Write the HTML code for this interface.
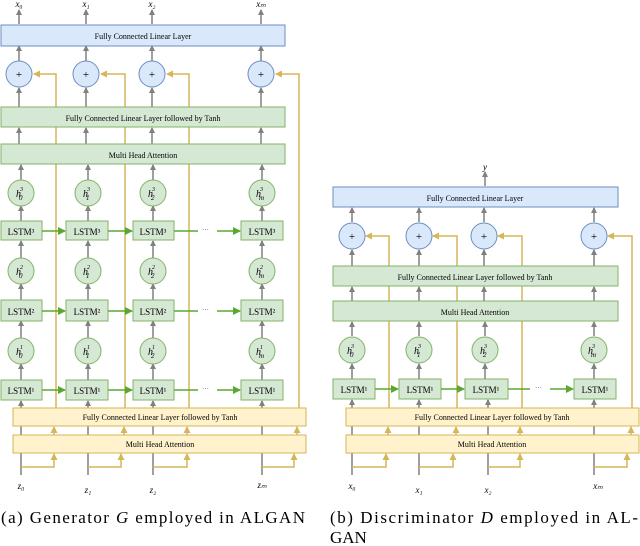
<!DOCTYPE html>
<html><head><style>body{margin:0;background:#fff}svg{display:block}
text{font-family:"Liberation Serif",serif}</style></head><body>
<svg width="640" height="546" viewBox="0 0 640 546" xmlns="http://www.w3.org/2000/svg">
<defs>
<marker id="g" markerWidth="6" markerHeight="6" refX="5" refY="3" orient="auto" markerUnits="userSpaceOnUse"><path d="M0,0L6,3L0,6z" fill="#808080"/></marker>
<marker id="gr" markerWidth="8" markerHeight="8" refX="7" refY="4" orient="auto" markerUnits="userSpaceOnUse"><path d="M0,0L8,4L0,8z" fill="#5aa832"/></marker>
<marker id="y" markerWidth="7" markerHeight="7" refX="6" refY="3.5" orient="auto" markerUnits="userSpaceOnUse"><path d="M0,0L7,3.5L0,7z" fill="#d6b656"/></marker>
</defs>
<g id="left">
<g stroke="#808080" stroke-width="1.5" marker-end="url(#g)">
<line x1="19" y1="24" x2="19" y2="10"/><line x1="86" y1="24" x2="86" y2="10"/><line x1="152" y1="24" x2="152" y2="10"/><line x1="261" y1="24" x2="261" y2="10"/>
<line x1="19" y1="61" x2="19" y2="46"/><line x1="86" y1="61" x2="86" y2="46"/><line x1="152" y1="61" x2="152" y2="46"/><line x1="261" y1="61" x2="261" y2="46"/>
<line x1="19" y1="107" x2="19" y2="88"/><line x1="86" y1="107" x2="86" y2="88"/><line x1="152" y1="107" x2="152" y2="88"/><line x1="261" y1="107" x2="261" y2="88"/>
<line x1="19" y1="144" x2="19" y2="128"/><line x1="86" y1="144" x2="86" y2="128"/><line x1="152" y1="144" x2="152" y2="128"/><line x1="261" y1="144" x2="261" y2="128"/>
<line x1="21" y1="180" x2="21" y2="165"/><line x1="88" y1="180" x2="88" y2="165"/><line x1="153" y1="180" x2="153" y2="165"/><line x1="262" y1="180" x2="262" y2="165"/>
<line x1="21" y1="221" x2="21" y2="206"/><line x1="88" y1="221" x2="88" y2="206"/><line x1="153" y1="221" x2="153" y2="206"/><line x1="262" y1="221" x2="262" y2="206"/>
<line x1="21" y1="258" x2="21" y2="241"/><line x1="88" y1="258" x2="88" y2="241"/><line x1="153" y1="258" x2="153" y2="241"/><line x1="262" y1="258" x2="262" y2="241"/>
<line x1="21" y1="300" x2="21" y2="284"/><line x1="88" y1="300" x2="88" y2="284"/><line x1="153" y1="300" x2="153" y2="284"/><line x1="262" y1="300" x2="262" y2="284"/>
<line x1="21" y1="338" x2="21" y2="321"/><line x1="88" y1="338" x2="88" y2="321"/><line x1="153" y1="338" x2="153" y2="321"/><line x1="262" y1="338" x2="262" y2="321"/>
<line x1="21" y1="380" x2="21" y2="364"/><line x1="88" y1="380" x2="88" y2="364"/><line x1="153" y1="380" x2="153" y2="364"/><line x1="262" y1="380" x2="262" y2="364"/>
<line x1="21" y1="475" x2="21" y2="401"/><line x1="88" y1="475" x2="88" y2="401"/><line x1="153" y1="475" x2="153" y2="401"/><line x1="262" y1="475" x2="262" y2="401"/>
</g>
<g stroke="#d6b656" stroke-width="1.5" fill="none">
<polyline points="56,408 56,74 34,74" marker-end="url(#y)"/>
<polyline points="125,408 125,74 101,74" marker-end="url(#y)"/>
<polyline points="189,408 189,74 167,74" marker-end="url(#y)"/>
<polyline points="299,408 299,74 276,74" marker-end="url(#y)"/>
<polyline points="21,467 54,467 54,454" marker-end="url(#y)"/>
<polyline points="88,467 121,467 121,454" marker-end="url(#y)"/>
<polyline points="153,467 187,467 187,454" marker-end="url(#y)"/>
<polyline points="262,467 294,467 294,454" marker-end="url(#y)"/>
<line x1="54" y1="435" x2="54" y2="427" marker-end="url(#y)"/><line x1="124" y1="435" x2="124" y2="427" marker-end="url(#y)"/><line x1="187" y1="435" x2="187" y2="427" marker-end="url(#y)"/><line x1="297" y1="435" x2="297" y2="427" marker-end="url(#y)"/>
</g>
<rect x="1" y="25" width="284" height="21" fill="#dae8fc" stroke="#6c8ebf"/>
<text x="143" y="39" font-size="8" text-anchor="middle">Fully Connected Linear Layer</text>
<rect x="1" y="107" width="284" height="20" fill="#d5e8d4" stroke="#82b366"/>
<text x="143" y="121" font-size="8" text-anchor="middle">Fully Connected Linear Layer followed by Tanh</text>
<rect x="1" y="144" width="284" height="20" fill="#d5e8d4" stroke="#82b366"/>
<text x="143" y="158" font-size="8" text-anchor="middle">Multi Head Attention</text>
<rect x="13" y="408" width="293" height="18" fill="#fff2cc" stroke="#d6b656"/>
<text x="160" y="420" font-size="8" text-anchor="middle">Fully Connected Linear Layer followed by Tanh</text>
<rect x="13" y="435" width="293" height="18" fill="#fff2cc" stroke="#d6b656"/>
<text x="160" y="447" font-size="8" text-anchor="middle">Multi Head Attention</text>
<g fill="#dae8fc" stroke="#6c8ebf"><circle cx="19" cy="74" r="13"/><circle cx="86" cy="74" r="13"/><circle cx="152" cy="74" r="13"/><circle cx="261" cy="74" r="13"/></g>
<g font-size="11" text-anchor="middle"><text x="19" y="78">+</text><text x="86" y="78">+</text><text x="152" y="78">+</text><text x="261" y="78">+</text></g>
<g fill="#d5e8d4" stroke="#82b366">
<circle cx="21" cy="193" r="13"/><circle cx="88" cy="193" r="13"/><circle cx="153" cy="193" r="13"/><circle cx="262" cy="193" r="13"/>
<circle cx="21" cy="271" r="13"/><circle cx="88" cy="271" r="13"/><circle cx="153" cy="271" r="13"/><circle cx="262" cy="271" r="13"/>
<circle cx="21" cy="351" r="13"/><circle cx="88" cy="351" r="13"/><circle cx="153" cy="351" r="13"/><circle cx="262" cy="351" r="13"/>
<rect x="1" y="221" width="41" height="19"/><rect x="66" y="221" width="42" height="19"/><rect x="133" y="221" width="41" height="19"/><rect x="241" y="221" width="42" height="19"/>
<rect x="1" y="300" width="41" height="21"/><rect x="66" y="300" width="42" height="21"/><rect x="133" y="300" width="41" height="21"/><rect x="241" y="300" width="42" height="21"/>
<rect x="1" y="380" width="41" height="20"/><rect x="66" y="380" width="42" height="20"/><rect x="133" y="380" width="41" height="20"/><rect x="241" y="380" width="42" height="20"/>
</g>
<g stroke="#5aa832" stroke-width="1.5" marker-end="url(#gr)">
<line x1="42" y1="231" x2="65" y2="231"/><line x1="108" y1="231" x2="132" y2="231"/><line x1="217" y1="231" x2="240" y2="231"/>
<line x1="42" y1="311" x2="65" y2="311"/><line x1="108" y1="311" x2="132" y2="311"/><line x1="217" y1="311" x2="240" y2="311"/>
<line x1="42" y1="390" x2="65" y2="390"/><line x1="108" y1="390" x2="132" y2="390"/><line x1="217" y1="390" x2="240" y2="390"/>
</g>
<g stroke="#5aa832" stroke-width="1.5"><line x1="174" y1="231" x2="198" y2="231"/><line x1="174" y1="311" x2="198" y2="311"/><line x1="174" y1="390" x2="198" y2="390"/></g>
<g font-size="7" fill="#555"><text x="202" y="232">···</text><text x="202" y="312">···</text><text x="202" y="391">···</text></g>
<g font-size="9" text-anchor="middle">
<text x="21" y="235">LSTM³</text><text x="87" y="235">LSTM³</text><text x="153" y="235">LSTM³</text><text x="262" y="235">LSTM³</text>
<text x="21" y="315">LSTM²</text><text x="87" y="315">LSTM²</text><text x="153" y="315">LSTM²</text><text x="262" y="315">LSTM²</text>
<text x="21" y="394">LSTM¹</text><text x="87" y="394">LSTM¹</text><text x="153" y="394">LSTM¹</text><text x="262" y="394">LSTM¹</text>
</g>
<g font-size="10" font-style="italic">
<text x="16" y="197">h<tspan font-size="6" dy="-6" dx="-1">3</tspan><tspan font-size="7" dy="9" dx="-4">0</tspan></text>
<text x="83" y="197">h<tspan font-size="6" dy="-6" dx="-1">3</tspan><tspan font-size="7" dy="9" dx="-4">1</tspan></text>
<text x="148" y="197">h<tspan font-size="6" dy="-6" dx="-1">3</tspan><tspan font-size="7" dy="9" dx="-4">2</tspan></text>
<text x="256" y="197">h<tspan font-size="6" dy="-6" dx="-1">3</tspan><tspan font-size="7" dy="9" dx="-4">m</tspan></text>
<text x="16" y="275">h<tspan font-size="6" dy="-6" dx="-1">2</tspan><tspan font-size="7" dy="9" dx="-4">0</tspan></text>
<text x="83" y="275">h<tspan font-size="6" dy="-6" dx="-1">2</tspan><tspan font-size="7" dy="9" dx="-4">1</tspan></text>
<text x="148" y="275">h<tspan font-size="6" dy="-6" dx="-1">2</tspan><tspan font-size="7" dy="9" dx="-4">2</tspan></text>
<text x="256" y="275">h<tspan font-size="6" dy="-6" dx="-1">2</tspan><tspan font-size="7" dy="9" dx="-4">m</tspan></text>
<text x="16" y="355">h<tspan font-size="6" dy="-6" dx="-1">1</tspan><tspan font-size="7" dy="9" dx="-4">0</tspan></text>
<text x="83" y="355">h<tspan font-size="6" dy="-6" dx="-1">1</tspan><tspan font-size="7" dy="9" dx="-4">1</tspan></text>
<text x="148" y="355">h<tspan font-size="6" dy="-6" dx="-1">1</tspan><tspan font-size="7" dy="9" dx="-4">2</tspan></text>
<text x="256" y="355">h<tspan font-size="6" dy="-6" dx="-1">1</tspan><tspan font-size="7" dy="9" dx="-4">m</tspan></text>
</g>
<g font-size="9" font-style="italic" text-anchor="middle">
<text x="19" y="7">x₀</text><text x="86" y="7">x₁</text><text x="152" y="7">x₂</text><text x="261" y="7">xₘ</text>
<text x="21" y="489">z₀</text><text x="88" y="493">z₁</text><text x="153" y="493">z₂</text><text x="262" y="488">zₘ</text>
</g>
<text x="1" y="523" font-size="17" textLength="304" lengthAdjust="spacing">(a) Generator <tspan font-style="italic">G</tspan> employed in ALGAN</text>
</g>

<g id="right">
<g stroke="#808080" stroke-width="1.5" marker-end="url(#g)">
<line x1="485" y1="186" x2="485" y2="172"/>
<line x1="352" y1="222" x2="352" y2="208"/><line x1="419" y1="222" x2="419" y2="208"/><line x1="484" y1="222" x2="484" y2="208"/><line x1="594" y1="222" x2="594" y2="208"/>
<line x1="352" y1="266" x2="352" y2="250"/><line x1="419" y1="266" x2="419" y2="250"/><line x1="484" y1="266" x2="484" y2="250"/><line x1="594" y1="266" x2="594" y2="250"/>
<line x1="352" y1="301" x2="352" y2="287"/><line x1="419" y1="301" x2="419" y2="287"/><line x1="484" y1="301" x2="484" y2="287"/><line x1="594" y1="301" x2="594" y2="287"/>
<line x1="352" y1="336" x2="352" y2="322"/><line x1="419" y1="336" x2="419" y2="322"/><line x1="485" y1="336" x2="485" y2="322"/><line x1="594" y1="336" x2="594" y2="322"/>
<line x1="352" y1="379" x2="352" y2="364"/><line x1="419" y1="379" x2="419" y2="364"/><line x1="485" y1="379" x2="485" y2="364"/><line x1="594" y1="379" x2="594" y2="364"/>
<line x1="352" y1="475" x2="352" y2="400"/><line x1="419" y1="475" x2="419" y2="400"/><line x1="488" y1="475" x2="488" y2="400"/><line x1="594" y1="475" x2="594" y2="400"/>
</g>
<g stroke="#d6b656" stroke-width="1.5" fill="none">
<polyline points="389,408 389,236 366,236" marker-end="url(#y)"/>
<polyline points="457,408 457,236 433,236" marker-end="url(#y)"/>
<polyline points="522,408 522,236 498,236" marker-end="url(#y)"/>
<polyline points="632,408 632,236 608,236" marker-end="url(#y)"/>
<polyline points="352,467 386,467 386,454" marker-end="url(#y)"/>
<polyline points="419,467 453,467 453,454" marker-end="url(#y)"/>
<polyline points="488,467 520,467 520,454" marker-end="url(#y)"/>
<polyline points="594,467 627,467 627,454" marker-end="url(#y)"/>
<line x1="388" y1="435" x2="388" y2="427" marker-end="url(#y)"/><line x1="456" y1="435" x2="456" y2="427" marker-end="url(#y)"/><line x1="520" y1="435" x2="520" y2="427" marker-end="url(#y)"/><line x1="631" y1="435" x2="631" y2="427" marker-end="url(#y)"/>
</g>
<rect x="333" y="187" width="285" height="20" fill="#dae8fc" stroke="#6c8ebf"/>
<text x="475" y="201" font-size="8" text-anchor="middle">Fully Connected Linear Layer</text>
<rect x="333" y="266" width="285" height="20" fill="#d5e8d4" stroke="#82b366"/>
<text x="475" y="280" font-size="8" text-anchor="middle">Fully Connected Linear Layer followed by Tanh</text>
<rect x="333" y="301" width="285" height="20" fill="#d5e8d4" stroke="#82b366"/>
<text x="475" y="315" font-size="8" text-anchor="middle">Multi Head Attention</text>
<rect x="346" y="408" width="293" height="18" fill="#fff2cc" stroke="#d6b656"/>
<text x="492" y="420" font-size="8" text-anchor="middle">Fully Connected Linear Layer followed by Tanh</text>
<rect x="346" y="435" width="293" height="18" fill="#fff2cc" stroke="#d6b656"/>
<text x="492" y="447" font-size="8" text-anchor="middle">Multi Head Attention</text>
<g fill="#dae8fc" stroke="#6c8ebf"><circle cx="352" cy="236" r="13"/><circle cx="419" cy="236" r="13"/><circle cx="484" cy="236" r="13"/><circle cx="594" cy="236" r="13"/></g>
<g font-size="11" text-anchor="middle"><text x="352" y="240">+</text><text x="419" y="240">+</text><text x="484" y="240">+</text><text x="594" y="240">+</text></g>
<g fill="#d5e8d4" stroke="#82b366">
<circle cx="352" cy="350" r="13"/><circle cx="419" cy="350" r="13"/><circle cx="485" cy="350" r="13"/><circle cx="594" cy="350" r="13"/>
<rect x="333" y="379" width="42" height="20"/><rect x="399" y="379" width="42" height="20"/><rect x="465" y="379" width="43" height="20"/><rect x="574" y="379" width="42" height="20"/>
</g>
<g stroke="#5aa832" stroke-width="1.5" marker-end="url(#gr)">
<line x1="375" y1="389" x2="398" y2="389"/><line x1="441" y1="389" x2="464" y2="389"/><line x1="550" y1="389" x2="573" y2="389"/>
</g>
<line x1="508" y1="389" x2="530" y2="389" stroke="#5aa832" stroke-width="1.5"/>
<text x="535" y="390" font-size="7" fill="#555">···</text>
<g font-size="9" text-anchor="middle">
<text x="354" y="393">LSTM¹</text><text x="420" y="393">LSTM¹</text><text x="486" y="393">LSTM¹</text><text x="595" y="393">LSTM¹</text>
</g>
<g font-size="10" font-style="italic">
<text x="347" y="354">h<tspan font-size="6" dy="-6" dx="-1">3</tspan><tspan font-size="7" dy="9" dx="-4">0</tspan></text>
<text x="414" y="354">h<tspan font-size="6" dy="-6" dx="-1">3</tspan><tspan font-size="7" dy="9" dx="-4">1</tspan></text>
<text x="480" y="354">h<tspan font-size="6" dy="-6" dx="-1">3</tspan><tspan font-size="7" dy="9" dx="-4">2</tspan></text>
<text x="588" y="354">h<tspan font-size="6" dy="-6" dx="-1">3</tspan><tspan font-size="7" dy="9" dx="-4">m</tspan></text>
</g>
<g font-size="9" font-style="italic" text-anchor="middle">
<text x="485" y="170">y</text>
<text x="352" y="489">x₀</text><text x="419" y="493">x₁</text><text x="488" y="493">x₂</text><text x="598" y="489">xₘ</text>
</g>
<text x="330" y="523" font-size="17" textLength="308" lengthAdjust="spacing">(b) Discriminator <tspan font-style="italic">D</tspan> employed in AL-</text>
<text x="330" y="543" font-size="17">GAN</text>
</g>
</svg>
</body></html>
